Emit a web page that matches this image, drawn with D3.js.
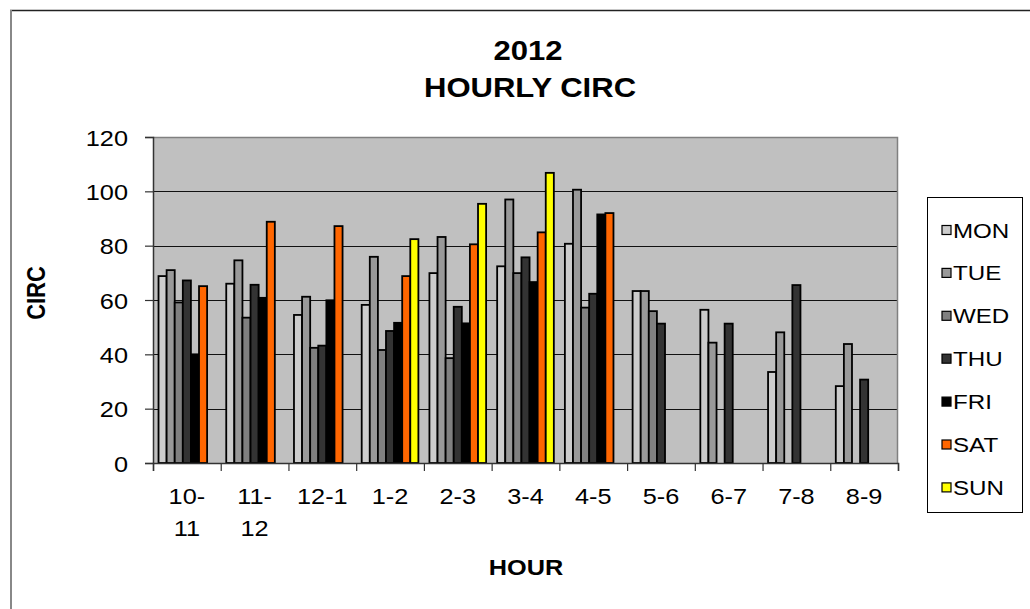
<!DOCTYPE html>
<html>
<head>
<meta charset="utf-8">
<script src="https://cdn.jsdelivr.net/npm/d3@7"></script>
<style>
  html, body { margin: 0; padding: 0; background: #fff; }
  svg { display: block; font-family: "Liberation Sans", Arial, sans-serif; }
</style>
</head>
<body>
<svg id="chart" width="1030" height="609"></svg>
<script>
// Hourly circulation counts by weekday, 2012
const hours = ["10-\n11", "11-\n12", "12-1", "1-2", "2-3", "3-4", "4-5", "5-6", "6-7", "7-8", "8-9"];
const days = ["MON", "TUE", "WED", "THU", "FRI", "SAT", "SUN"];
const MON = [68.8, 66.0, 54.5, 58.2, 69.9, 72.4, 80.7, 63.3, 56.4, 33.5, 28.3];
const TUE = [71.0, 74.6, 61.2, 75.9, 83.2, 97.0, 100.6, 63.3, 44.3, 48.1, 43.8];
const WED = [59.1, 53.5, 42.4, 41.6, 38.6, 69.9, 57.2, 55.9, null, null, null];
const THU = [67.2, 65.6, 43.2, 48.6, 57.5, 75.7, 62.3, 51.3, 51.3, 65.5, 30.7];
const FRI = [40.0, 60.8, 59.9, 51.6, 51.4, 66.6, 91.5, null, null, null, null];
const SAT = [65.1, 88.8, 87.2, 68.8, 80.5, 84.9, 92.0, null, null, null, null];
const SUN = [null, null, null, 82.4, 95.4, 106.8, null, null, null, null, null];
const yTicks = [0, 20, 40, 60, 80, 100, 120];
const colors = ["#cccccc", "#999999", "#808080", "#333333", "#000000", "#ff6600", "#ffff00"];

const series = [MON, TUE, WED, THU, FRI, SAT, SUN];

const svg = d3.select("#chart");
const plot = { left: 153, top: 137, right: 898, bottom: 463 };
const SX = 1.15; // horizontal text stretch

// Outer chart frame
svg.append("line").attr("x1", 10).attr("x2", 1030).attr("y1", 10.5).attr("y2", 10.5)
  .attr("stroke", "#222").attr("stroke-width", 1.5);
svg.append("line").attr("x1", 11).attr("x2", 11).attr("y1", 10).attr("y2", 609)
  .attr("stroke", "#888").attr("stroke-width", 2);

const x = d3.scaleBand().domain(d3.range(hours.length)).range([plot.left, plot.right]).paddingInner(0).paddingOuter(0);
const gap = x.bandwidth() * 0.0815;
const xs = d3.scaleBand().domain(d3.range(days.length)).range([gap, x.bandwidth() - gap]);
const y = d3.scaleLinear().domain([0, 120]).range([plot.bottom, plot.top]);

// Plot area background
svg.append("rect").attr("x", plot.left).attr("y", plot.top)
  .attr("width", plot.right - plot.left).attr("height", plot.bottom - plot.top)
  .attr("fill", "#c0c0c0");

// Gridlines
svg.append("g").selectAll("line").data(yTicks.filter(t => t > 0 && t < 120)).join("line")
  .attr("x1", plot.left).attr("x2", plot.right)
  .attr("y1", d => Math.round(y(d)) + 0.5).attr("y2", d => Math.round(y(d)) + 0.5)
  .attr("stroke", "#111").attr("stroke-width", 1);

// Plot area border (top and right)
svg.append("path")
  .attr("d", `M${plot.left},${plot.top + 0.5}H${plot.right - 0.5}V${plot.bottom}`)
  .attr("fill", "none").attr("stroke", "#808080").attr("stroke-width", 1.5);

// Bars
const bars = [];
series.forEach((vals, si) => vals.forEach((v, ci) => {
  if (v != null) bars.push({ si, ci, v });
}));
svg.append("g").selectAll("rect").data(bars).join("rect")
  .attr("x", d => x(d.ci) + xs(d.si))
  .attr("y", d => y(d.v))
  .attr("width", xs.bandwidth())
  .attr("height", d => y(0) - y(d.v))
  .attr("fill", d => colors[d.si])
  .attr("stroke", "#000").attr("stroke-width", 1.8);

// Y axis
const yAxis = svg.append("g").attr("transform", `translate(${plot.left},0)`)
  .call(d3.axisLeft(y).tickValues(yTicks).tickSize(8).tickFormat(d3.format("d")));
yAxis.select(".domain").attr("stroke", "#333").attr("stroke-width", 1.5);
yAxis.selectAll(".tick line").attr("stroke", "#333").attr("stroke-width", 1.2);
yAxis.selectAll(".tick text").remove();
yAxis.selectAll(".tick").append("text")
  .attr("transform", `translate(-25,8) scale(${SX},1)`)
  .attr("text-anchor", "end").attr("fill", "#000")
  .style("font-size", "22px").text(d => d);

// X axis
const xAxis = svg.append("g").attr("transform", `translate(0,${plot.bottom})`)
  .call(d3.axisBottom(d3.scaleLinear().domain([0, hours.length]).range([plot.left, plot.right]))
    .tickValues(d3.range(hours.length + 1)).tickSize(8).tickFormat(""));
xAxis.select(".domain").attr("stroke", "#333").attr("stroke-width", 1.5);
xAxis.selectAll(".tick line").attr("stroke", "#333").attr("stroke-width", 1.2);

// Category labels
const labels = svg.append("g");
hours.forEach((h, i) => {
  const cx = x(i) + x.bandwidth() / 2;
  h.split("\n").forEach((line, li) => {
    labels.append("text")
      .attr("transform", `translate(${cx},${504 + li * 32}) scale(${SX},1)`)
      .attr("text-anchor", "middle").style("font-size", "22px").text(line);
  });
});

// Titles
const title = svg.append("g").style("font-weight", "bold").attr("text-anchor", "middle");
title.append("text").attr("transform", `translate(528,60) scale(${SX},1)`).style("font-size", "27px").text("2012");
title.append("text").attr("transform", `translate(530,97) scale(${SX},1)`).style("font-size", "27px").text("HOURLY CIRC");
svg.append("text").attr("transform", `translate(526,575) scale(${SX},1)`)
  .attr("text-anchor", "middle").style("font-weight", "bold").style("font-size", "22px").text("HOUR");
svg.append("text").attr("transform", `translate(45,293) scale(${SX},1) rotate(-90)`)
  .attr("text-anchor", "middle").style("font-weight", "bold").style("font-size", "22px").text("CIRC");

// Legend
const legend = svg.append("g");
legend.append("rect").attr("x", 927.5).attr("y", 197.5).attr("width", 95).attr("height", 315)
  .attr("fill", "#fff").attr("stroke", "#000").attr("stroke-width", 1);
const item = legend.selectAll("g.item").data(days).join("g").attr("class", "item")
  .attr("transform", (d, i) => `translate(942,${230 + i * 42.9})`);
item.append("rect").attr("x", 0).attr("y", -4.5).attr("width", 9).attr("height", 9)
  .attr("fill", (d, i) => colors[i]).attr("stroke", "#000").attr("stroke-width", 1.2);
item.append("text").attr("transform", `translate(11,7.5) scale(${SX},1)`)
  .style("font-size", "21px").text(d => d);
</script>
</body>
</html>
